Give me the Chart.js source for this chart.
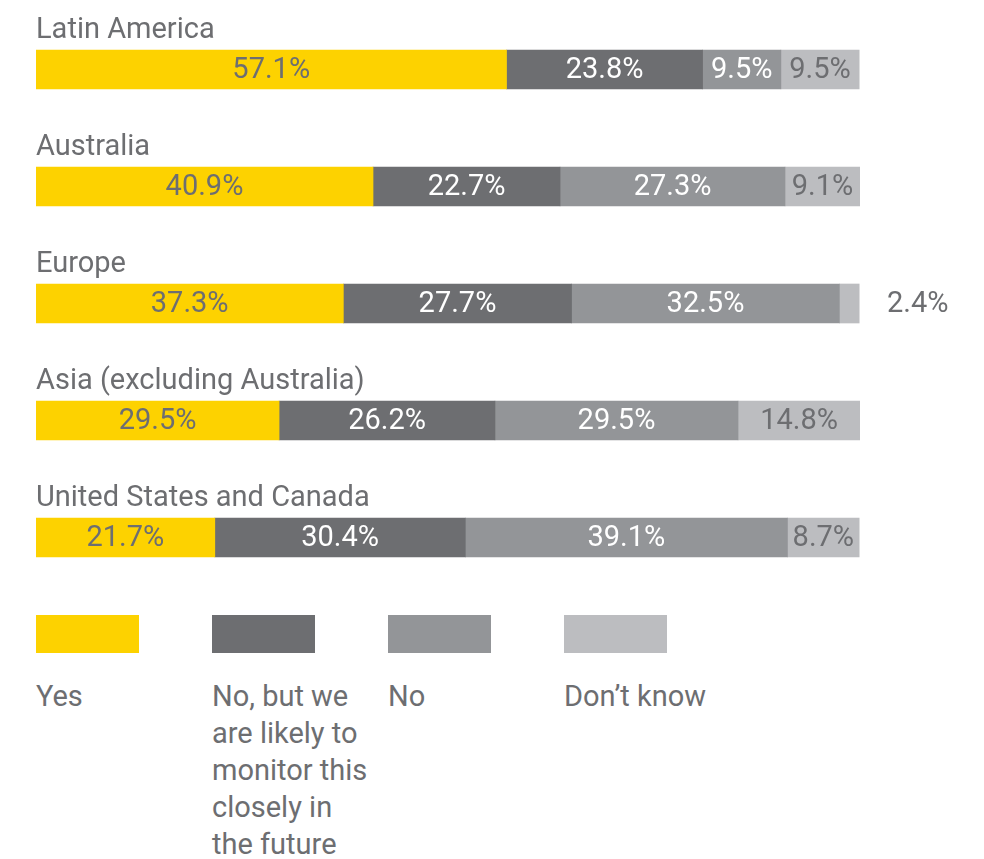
<!DOCTYPE html>
<html lang="en">
  <head>
    <meta charset="UTF-8" />
    <title>Monitoring by region</title>
    <style>
      html, body { margin: 0; padding: 0; background: #fff; }
      body { width: 984px; height: 859px; position: relative; overflow: hidden; font-family: Roboto, sans-serif; color: #6d6e71; }
      .chart { position: absolute; left: 0; top: 0; width: 984px; height: 600px; }
      .legend-item { position: absolute; top: 615px; width: 160px; }
      .legend-item .box { width: 103px; height: 38px; }
      .legend-item .txt { margin-top: 25px; font-size: 29px; line-height: 37px; }
    </style>
  </head>
  <body>
    <script src="https://cdn.jsdelivr.net/npm/chart.js"></script>
    <div class="chart"><canvas id="chart"></canvas></div>
    <div id="legend"></div>

    <script>
      const regions = ["Latin America", "Australia", "Europe", "Asia (excluding Australia)", "United States and Canada"];
      const seriesNames = ["Yes", "No, but we are likely to monitor this closely in the future", "No", "Don\u2019t know"];
      const yesVals = [57.1, 40.9, 37.3, 29.5, 21.7];
      const likelyVals = [23.8, 22.7, 27.7, 26.2, 30.4];
      const noVals = [9.5, 27.3, 32.5, 29.5, 39.1];
      const dontKnowVals = [9.5, 9.1, 2.4, 14.8, 8.7];

      const colors = ["#fdd200", "#6d6e71", "#939598", "#bcbdc0"];
      const labelColors = ["#6d6e71", "#ffffff", "#ffffff", "#6d6e71"];
      const textGrey = "#6d6e71";
      const FONT = "29px Roboto, sans-serif";

      // labels: region name above each bar + values inside the segments
      const barText = {
        id: "barText",
        afterDatasetsDraw(chart) {
          const ctx = chart.ctx;
          ctx.save();
          ctx.font = FONT;
          ctx.textBaseline = "middle";
          chart.data.datasets.forEach((ds, di) => {
            const meta = chart.getDatasetMeta(di);
            meta.data.forEach((bar, i) => {
              const v = ds.data[i];
              const left = Math.min(bar.base, bar.x);
              const w = Math.abs(bar.x - bar.base);
              const txt = v.toFixed(1) + "%";
              if (v < 5) {
                // too small, put it outside the bar
                ctx.fillStyle = textGrey;
                ctx.textAlign = "left";
                ctx.fillText(txt, chart.chartArea.right + 27, bar.y + 1);
              } else {
                ctx.fillStyle = labelColors[di];
                ctx.textAlign = "center";
                ctx.fillText(txt, left + w / 2, bar.y + 1);
              }
            });
          });
          // region titles
          const meta0 = chart.getDatasetMeta(0);
          ctx.fillStyle = textGrey;
          ctx.textAlign = "left";
          ctx.textBaseline = "alphabetic";
          meta0.data.forEach((bar, i) => {
            const top = bar.y - bar.height / 2;
            ctx.fillText(regions[i], chart.chartArea.left, top - 12);
          });
          ctx.restore();
        },
      };

      const allVals = [yesVals, likelyVals, noVals, dontKnowVals];

      new Chart(document.getElementById("chart"), {
        type: "bar",
        data: {
          labels: regions,
          datasets: seriesNames.map((name, i) => ({
            label: name,
            data: allVals[i],
            backgroundColor: colors[i],
            borderWidth: 0,
            barThickness: 39,
          })),
        },
        options: {
          indexAxis: "y",
          responsive: true,
          maintainAspectRatio: false,
          animation: false,
          layout: { padding: { left: 36, right: 124, top: 11, bottom: 4 } },
          scales: {
            x: { stacked: true, min: 0, max: 100, display: false },
            y: { stacked: true, display: false },
          },
          plugins: {
            legend: { display: false },
            tooltip: { enabled: false },
          },
        },
        plugins: [barText],
      });

      // legend below the chart
      const legendLeft = [36, 212, 388, 564];
      const legend = document.getElementById("legend");
      seriesNames.forEach((name, i) => {
        const item = document.createElement("div");
        item.className = "legend-item";
        item.style.left = legendLeft[i] + "px";
        item.innerHTML = '<div class="box" style="background:' + colors[i] + '"></div><div class="txt">' + name + "</div>";
        legend.appendChild(item);
      });
    </script>
  </body>
</html>
